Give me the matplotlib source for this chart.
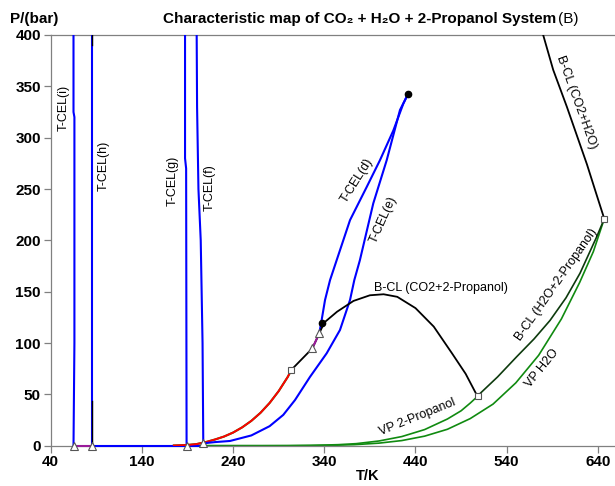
import numpy as np
import matplotlib.pyplot as plt

plt.rcParams['font.family'] = ['Liberation Sans Narrow', 'Liberation Sans', 'DejaVu Sans']

# ---- curve data (T in K, P in bar) ----
# pure-component vapour pressure curves
vp_co2_T = [175, 190, 200, 210, 220, 230, 240, 250, 260, 270, 280, 290, 300, 304]
vp_co2_P = [0.2, 0.7, 1.6, 3.5, 6.0, 8.9, 12.8, 17.9, 24.2, 32.0, 41.6, 53.2, 67.1, 74]

vp_h2o_T = [190, 273, 300, 350, 373, 400, 425, 450, 475, 500, 525, 550, 575, 600, 620, 635, 647]
vp_h2o_P = [0, 0.01, 0.04, 0.42, 1.0, 2.5, 5.0, 9.3, 16.0, 26.4, 40.5, 61.2, 88.0, 123.5, 159, 189, 221]

vp_prop_T = [190, 273, 300, 325, 355, 375, 400, 425, 450, 475, 490, 500, 508]
vp_prop_P = [0, 0.01, 0.06, 0.25, 1.0, 2.0, 4.6, 8.9, 15.7, 26.0, 34.0, 41.5, 48]

# binary critical lines
bcl_co2_prop_T = [304, 315, 326.9, 334.5, 340, 354, 372, 390, 405, 420, 440, 460, 480, 495, 508]
bcl_co2_prop_P = [74, 84, 94.8, 109.4, 120, 130.5, 141, 146.5, 147.5, 145, 134, 116, 90, 70, 48]

bcl_h2o_prop_T = [508, 511, 530, 551, 570, 587.5, 605, 620.4, 638.7, 647]
bcl_h2o_prop_P = [48, 51, 67, 86.7, 104, 122, 144, 168, 203.5, 221]

bcl_co2_h2o_T = [647, 638, 628, 617, 606, 591, 580, 577]
bcl_co2_h2o_P = [221, 246, 274, 302, 330, 366, 400, 408]

# three-phase critical endpoint lines
tcel_d_T = [334.5, 337.1, 340.8, 346.3, 353.6, 368.2, 386.5, 401, 415.7, 426.6, 432]
tcel_d_P = [109.4, 122.4, 141.9, 161.3, 180.8, 219.7, 252, 278, 307, 333, 343]

tcel_e_T = [207.3, 220, 236.6, 260, 280, 295, 307.9, 324.3, 342.6, 357.2, 368.2, 372.9,
            379, 393.7, 408.4, 423, 430.4, 432]
tcel_e_P = [2.3, 3.5, 4.6, 10, 19, 30, 44.5, 67, 90, 112.7, 141.9, 161.3,
            180.6, 236, 278, 327, 340, 343]

tcel_f_T = [207.3, 206.5, 204.5, 202, 200.5, 200]
tcel_f_P = [2.3, 100, 200, 250, 330, 410]

tcel_g_T = [189, 188.5, 187.3, 187.3]
tcel_g_P = [0, 270, 280, 410]

tcel_h_T = [85, 85]
tcel_h_P = [0, 410]
tcel_h_black_lo_P = [0, 44]
tcel_h_black_hi_P = [390, 410]

tcel_i_T = [65, 66, 66, 65, 65]
tcel_i_P = [0, 100, 320, 325, 410]

# low-temperature base lines at P ~ 0
base_blue_T = [85, 207.3]
base_blue_P = [0, 0]
base_purple_T = [65, 85]
base_purple_P = [0, 0]
mid_purple_T = [326.9, 334.5]
mid_purple_P = [94.8, 109.4]

# special points
crit_T = [304, 508, 647]
crit_P = [74, 48, 221]
ep_T = [65, 85, 189, 207.3, 326.9, 334.5]
ep_P = [0, 0, 0, 2.3, 94.8, 109.4]
dot_T = [337.8, 432]
dot_P = [119.8, 343]

xticks = [40, 140, 240, 340, 440, 540, 640]
yticks = [0, 50, 100, 150, 200, 250, 300, 350, 400]

BLUE = '#0000ff'
GREEN = '#108a10'
DKGREEN = '#0d3a0d'

W, H = 615, 486
fig = plt.figure(figsize=(W / 100, H / 100), dpi=100)
x0, x1, ytop, ybot = 50.7, 615, 35, 445.7
ax = fig.add_axes([x0 / W, 1 - ybot / H, (x1 - x0) / W, (ybot - ytop) / H])
ax.set_xlim(40, 40 + (x1 - x0) / 0.912)
ax.set_ylim(0, 400)

# vertical endpoint lines
for T, P in [(tcel_i_T, tcel_i_P), (tcel_h_T, tcel_h_P), (tcel_g_T, tcel_g_P), (tcel_f_T, tcel_f_P)]:
    ax.plot(T, P, color=BLUE, lw=1.5, zorder=3)
ax.plot(tcel_h_T, tcel_h_black_lo_P, color='black', lw=1.0, zorder=4)
ax.plot(tcel_h_T, tcel_h_black_hi_P, color='black', lw=1.0, zorder=4)
ax.plot(base_blue_T, base_blue_P, color=BLUE, lw=1.5, zorder=3, clip_on=False)
ax.plot(base_purple_T, base_purple_P, color='#9a1a9a', lw=1.5, zorder=3, clip_on=False)

# vapour pressure curves
ax.plot(vp_h2o_T, vp_h2o_P, color=GREEN, lw=1.2, zorder=2, clip_on=False)
ax.plot(vp_prop_T, vp_prop_P, color=GREEN, lw=1.2, zorder=2, clip_on=False)
ax.plot(vp_co2_T, vp_co2_P, color=GREEN, lw=1.5, zorder=2)
ax.plot(vp_co2_T, vp_co2_P, color='#ff0000', lw=1.4, zorder=3)

# critical lines
ax.plot(tcel_e_T, tcel_e_P, color=BLUE, lw=1.5, zorder=3)
ax.plot(tcel_d_T, tcel_d_P, color=BLUE, lw=1.5, zorder=3)
ax.plot(bcl_co2_prop_T, bcl_co2_prop_P, color='black', lw=1.3, zorder=4)
ax.plot(mid_purple_T, mid_purple_P, color='#9a1a9a', lw=1.5, zorder=4)
ax.plot(bcl_h2o_prop_T, bcl_h2o_prop_P, color=DKGREEN, lw=1.2, zorder=4)
ax.plot(bcl_co2_h2o_T, bcl_co2_h2o_P, color='black', lw=1.3, zorder=4)

# markers
ax.plot(ep_T, ep_P, ls='none', marker='^', ms=5.5, mfc='white', mec='#555555', mew=0.8,
        zorder=6, clip_on=False)
ax.plot(crit_T, crit_P, ls='none', marker='s', ms=5, mfc='white', mec='#555555', mew=0.8,
        zorder=6, clip_on=False)
ax.plot(dot_T, dot_P, ls='none', marker='o', ms=4.5, color='black', zorder=6)

# axes styling
for side in ['left', 'bottom', 'top']:
    ax.spines[side].set_color('#808080')
    ax.spines[side].set_linewidth(0.9)
ax.spines['right'].set_visible(False)
ax.set_xticks(xticks)
ax.set_yticks(yticks)
ax.tick_params(direction='out', length=5, width=0.9, color='#808080', pad=2)
for lab in ax.get_xticklabels() + ax.get_yticklabels():
    lab.set_fontweight('bold')
    lab.set_fontsize(11)

ax.set_xlabel('T/K', fontweight='bold', fontsize=10.5)
ax.xaxis.set_label_coords((368 - x0) / (x1 - x0), -0.056)

fig.text(34 / W, 1 - 19 / H, 'P/(bar)', fontsize=11, fontweight='bold', ha='center', va='center')
fig.text(556 / W, 1 - 19 / H, 'Characteristic map of CO\u2082 + H\u2082O + 2-Propanol System',
         fontsize=11, fontweight='bold', ha='right', va='center')
fig.text(558 / W, 1 - 19 / H, '(B)', fontsize=11, ha='left', va='center')

# curve labels
lab_kw = dict(fontsize=9, ha='center', va='center', zorder=7)
ax.text(53.8, 328.6, 'T-CEL(i)', rotation=90, **lab_kw)
ax.text(97.7, 272.4, 'T-CEL(h)', rotation=90, **lab_kw)
ax.text(174, 257.7, 'T-CEL(g)', rotation=90, **lab_kw)
ax.text(214.7, 251.7, 'T-CEL(f)', rotation=90, **lab_kw)
ax.text(375.5, 258.7, 'T-CEL(d)', rotation=58, **lab_kw)
ax.text(404.7, 219.8, 'T-CEL(e)', rotation=66, **lab_kw)
ax.text(468, 154, 'B-CL (CO2+2-Propanol)', rotation=0, **lab_kw)
ax.text(441.6, 28, 'VP 2-Propanol', rotation=22, **lab_kw)
ax.text(594.8, 156.5, 'B-CL (H2O+2-Propanol)', rotation=55, **lab_kw)
ax.text(578.4, 75.7, 'VP H2O', rotation=51, **lab_kw)
ax.text(616, 335, 'B-CL (CO2+H2O)', rotation=-70, **lab_kw)

fig.savefig('out.png', dpi=100)
